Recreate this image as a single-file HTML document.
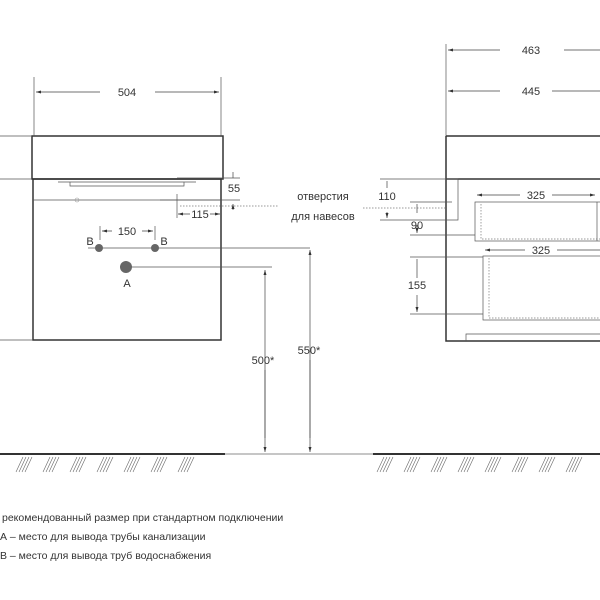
<!DOCTYPE html>
<html><head><style>body{margin:0;background:#fff}svg{display:block}</style></head><body>
<svg width="600" height="600" viewBox="0 0 600 600" xmlns="http://www.w3.org/2000/svg" font-family="Liberation Sans, sans-serif" fill="none">
<defs>
<marker id="a" markerWidth="6" markerHeight="6" refX="5" refY="3" orient="auto-start-reverse" markerUnits="userSpaceOnUse"><path d="M0,1.5L5,3L0,4.5z" fill="#333"/></marker>
<g id="hg" stroke="#666" stroke-width="0.6"><path d="M8,457L1,472M11,457L4,472M14,457L7,472M17,457L10,472"/></g>
</defs>
<g stroke="#333" stroke-width="1.5">
<rect x="32" y="136" width="191" height="43"/>
<rect x="33" y="179" width="188" height="161"/>
<path d="M446 136H600M446 136V341H600M446 179H600"/>
</g>
<g stroke="#555" stroke-width="0.7">
<path d="M0 136H32M0 179H32M0 340H33"/>
<path d="M34 77V136M221 77V136"/>
<path d="M33 200H221"/>
<path d="M58 182H196M70 182V186H184V182"/>
<path d="M160 200H240M177 194V206M177 178H240M177 206V218"/>
<path d="M100 226V240M155 226V240M88 248H310M130 267H272"/>
<path d="M446 44V136"/>
<path d="M380 179H458V220H380M410 202H452M410 235H475M410 257H483M410 314H483"/>
<rect x="475" y="202" width="130" height="39"/>
<rect x="483" y="256" width="120" height="64"/>
<path d="M466 341V334H600"/>
<path d="M597 202V241"/>
</g>
<g stroke="#777" stroke-width="0.7" stroke-dasharray="1.5,1.5">
<path d="M180 206H278M363 208H445M481 204V239H600M489 258V318H600"/>
</g>
<g stroke="#444" stroke-width="0.7" marker-start="url(#a)" marker-end="url(#a)">
<path d="M36 92H100M155 92H219"/>
<path d="M178 214H190M210 214H220"/>
<path d="M102 231H112M142 231H153"/>
<path d="M448 50H500M564 50H600" marker-end="none"/>
<path d="M448 91H500M552 91H600" marker-end="none"/>
<path d="M477 195H520M552 195H595"/>
<path d="M485 250H525M557 250H600" marker-end="none"/>
</g>
<g stroke="#444" stroke-width="0.7">
<path d="M233 172V178M233 210V204" marker-end="url(#a)"/>
<path d="M265 438V270" marker-end="url(#a)"/>
<path d="M310 438V250" marker-end="url(#a)"/>
<path d="M265 370V452" marker-end="url(#a)"/>
<path d="M310 360V452" marker-end="url(#a)"/>
<path d="M387 188V181M387 212V218" marker-end="url(#a)"/>
<path d="M417 213V204M417 225V233" marker-end="url(#a)"/>
<path d="M417 278V259M417 295V312" marker-end="url(#a)"/>
</g>
<circle cx="77" cy="200" r="2" stroke="#999" stroke-width="0.6"/>
<circle cx="99" cy="248" r="4" fill="#666"/>
<circle cx="155" cy="248" r="4" fill="#666"/>
<circle cx="126" cy="267" r="6" fill="#666"/>
<path d="M0 454H225M373 454H600" stroke="#333" stroke-width="2"/>
<path d="M225 454H373" stroke="#666" stroke-width="0.7"/>
<use href="#hg" x="15"/><use href="#hg" x="42"/><use href="#hg" x="69"/><use href="#hg" x="96"/><use href="#hg" x="123"/><use href="#hg" x="150"/><use href="#hg" x="177"/>
<use href="#hg" x="376"/><use href="#hg" x="403"/><use href="#hg" x="430"/><use href="#hg" x="457"/><use href="#hg" x="484"/><use href="#hg" x="511"/><use href="#hg" x="538"/><use href="#hg" x="565"/>
<g fill="#333" font-size="11" text-anchor="middle">
<text x="127" y="96">504</text>
<text x="234" y="192">55</text>
<text x="200" y="218">115</text>
<text x="127" y="235">150</text>
<text x="90" y="245">B</text>
<text x="164" y="245">B</text>
<text x="127" y="287">A</text>
<text x="263" y="364">500*</text>
<text x="309" y="354">550*</text>
<text x="323" y="200">отверстия</text>
<text x="323" y="220">для навесов</text>
<text x="531" y="54">463</text>
<text x="531" y="95">445</text>
<text x="387" y="200">110</text>
<text x="417" y="229">90</text>
<text x="536" y="199">325</text>
<text x="541" y="254">325</text>
<text x="417" y="289">155</text>
</g>
<g fill="#333" font-size="10.5">
<text x="2" y="521">рекомендованный размер при стандартном подключении</text>
<text x="0" y="540">А – место для вывода трубы канализации</text>
<text x="0" y="559">В – место для вывода труб водоснабжения</text>
</g>
</svg>
</body></html>
